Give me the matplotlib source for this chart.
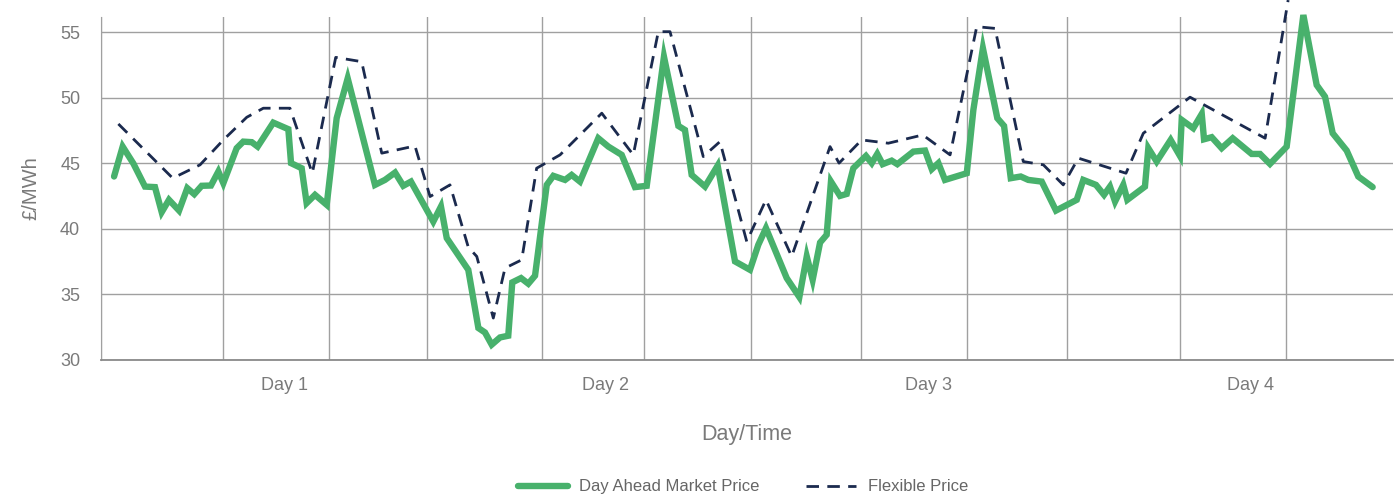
import numpy as np
import matplotlib
matplotlib.use("Agg")
from matplotlib import pyplot as plt

# hours from start of day 1, price in GBP/MWh
dam_hours = [0.97, 1.61, 2.40, 3.27, 4.01, 4.51, 5.05, 5.80, 6.41, 6.93, 7.48, 8.17, 8.72, 9.09,
             10.08, 10.57, 11.20, 11.64, 12.80, 13.92, 14.12, 14.91, 15.28, 15.90, 16.77, 17.51,
             18.33, 20.36, 21.10, 21.85, 22.46, 23.03, 24.69, 25.26, 25.69, 27.29, 28.04, 28.53,
             29.03, 29.65, 30.26, 30.56, 31.21, 31.75, 32.25, 33.12, 33.61, 34.48, 34.97, 35.59,
             36.95, 37.70, 38.69, 39.68, 40.55, 41.83, 42.90, 43.39, 43.89, 44.88, 45.82, 47.11,
             48.22, 48.84, 49.41, 50.95, 51.89, 52.44, 52.88, 53.43, 53.92, 54.24, 54.91, 55.41,
             55.90, 56.84, 57.27, 57.68, 58.08, 58.75, 59.17, 60.36, 61.23, 61.73, 62.22, 62.71,
             64.33, 64.82, 65.53, 66.60, 67.10, 67.60, 68.34, 68.90, 69.90, 70.96, 72.50, 72.99,
             73.93, 74.53, 74.97, 75.35, 75.96, 76.26, 77.57, 77.82, 78.44, 79.48, 80.17, 80.30,
             81.16, 81.79, 81.96, 82.53, 83.27, 84.09, 85.50, 86.12, 86.86, 88.10, 89.34, 90.33,
             90.95, 91.52, 92.56, 93.42, 94.49]
dam_price = [44.0, 46.28, 45.0, 43.23, 43.19, 41.28, 42.22, 41.4, 43.11, 42.65, 43.29, 43.31, 44.38,
             43.49, 46.16, 46.66, 46.62, 46.28, 48.11, 47.61, 45.02, 44.63, 41.97, 42.6, 41.84, 48.45,
             51.49, 43.36, 43.74, 44.3, 43.29, 43.61, 40.56, 41.71, 39.3, 36.88, 32.44, 32.1, 31.17,
             31.72, 31.85, 35.92, 36.25, 35.82, 36.43, 43.36, 44.05, 43.74, 44.12, 43.61, 46.92, 46.28,
             45.65, 43.19, 43.29, 53.14, 47.86, 47.55, 44.12, 43.23, 44.83, 37.52, 36.88, 38.79, 40.06,
             36.25, 34.8, 37.9, 36.12, 38.96, 39.55, 43.61, 42.52, 42.67, 44.63, 45.57, 45.02, 45.72,
             44.94, 45.21, 44.94, 45.9, 45.98, 44.56, 45.02, 43.74, 44.25, 49.08, 53.78, 48.45, 47.86,
             43.87, 44.0, 43.74, 43.61, 41.4, 42.22, 43.74, 43.36, 42.6, 43.23, 42.09, 43.36, 42.22,
             43.23, 46.16, 45.14, 46.79, 45.57, 48.32, 47.68, 48.77, 46.84, 47.0, 46.16, 46.92, 45.72,
             45.72, 44.96, 46.28, 56.32, 50.98, 50.09, 47.3, 45.98, 44.0, 43.19]

flex_hours = [1.29, 5.33, 7.36, 9.09, 10.83, 12.06, 14.04, 15.70, 17.44, 19.37, 20.86, 23.33, 24.45,
              25.93, 27.29, 27.92, 29.15, 30.02, 31.26, 32.37, 34.11, 37.21, 39.55, 41.41, 42.28,
              44.75, 45.99, 47.98, 49.41, 51.32, 54.17, 54.84, 56.52, 58.50, 61.06, 63.09, 65.07,
              66.43, 68.53, 70.02, 71.50, 72.62, 76.16, 77.45, 80.92, 86.50, 88.21]
flex_price = [48.01, 43.87, 44.89, 46.79, 48.52, 49.21, 49.21, 44.25, 53.09, 52.76, 45.78, 46.33, 42.47,
              43.36, 38.61, 37.9, 33.2, 37.01, 37.64, 44.63, 45.65, 48.83, 45.65, 55.05, 55.05,
              45.52, 46.66, 39.04, 42.22, 37.9, 46.28, 45.02, 46.79, 46.54, 47.17, 45.65, 55.43,
              55.3, 45.14, 44.89, 43.36, 45.4, 44.25, 47.3, 50.05, 46.92, 57.46]

grid_hours = [0, 9.04, 16.94, 24.23, 32.78, 40.36, 48.3, 56.48, 64.35, 71.78, 80.17, 88.05]
day_labels = ["Day 1", "Day 2", "Day 3", "Day 4"]
day_label_hours = [13.6, 37.5, 61.5, 85.4]

plt.rcParams['font.family'] = ['Liberation Sans', 'DejaVu Sans']
grey = '#7a7a7a'
gridcol = '#a0a0a0'

fig = plt.figure(figsize=(13.99, 4.97), dpi=100)
ax = fig.add_axes([0.0722, 0.2757, 0.9235, 0.6901])

ax.plot(dam_hours, dam_price, color='#48b16c', lw=4.6, solid_joinstyle='miter',
        solid_capstyle='round', label='Day Ahead Market Price', zorder=3, clip_on=False)
ax.plot(flex_hours, flex_price, color='#1b2a4e', lw=2.0, dashes=(4.5, 3.0),
        label='Flexible Price', zorder=4, clip_on=False)

ax.set_xlim(0, 96)
ax.set_ylim(30, 56.17)
ax.set_yticks([30, 35, 40, 45, 50, 55])

ax.set_xticks(grid_hours, minor=True)
ax.set_xticks(day_label_hours)
ax.set_xticklabels(day_labels)
ax.grid(axis='y', color=gridcol, lw=1.0)
ax.grid(axis='x', which='minor', color=gridcol, lw=1.0)
ax.set_axisbelow(True)

for s in ['top', 'right']:
    ax.spines[s].set_visible(False)
ax.spines['left'].set_color(gridcol)
ax.spines['bottom'].set_color('#8a8a8a')
ax.spines['bottom'].set_linewidth(1.3)

ax.tick_params(axis='both', which='both', length=0, colors=grey, labelsize=13)
ax.tick_params(axis='y', pad=15)
ax.tick_params(axis='x', pad=12)

ax.set_ylabel('£/MWh', color=grey, fontsize=14.5, labelpad=14)
ax.set_xlabel('Day/Time', color=grey, fontsize=15.5, labelpad=22)

leg = fig.legend(loc='lower center', bbox_to_anchor=(0.531, -0.025), ncol=2, frameon=False,
                 fontsize=12, handlelength=3.0, columnspacing=2.8, handletextpad=0.7)
for t in leg.get_texts():
    t.set_color('#666666')

fig.savefig('out.png', dpi=100)
plt.close()
